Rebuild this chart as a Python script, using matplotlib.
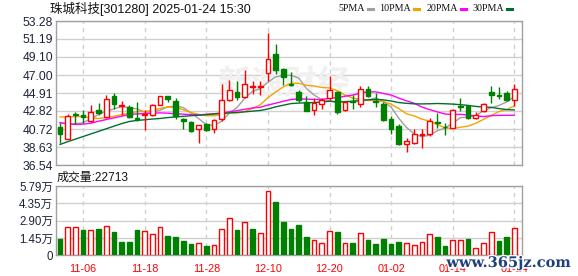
import matplotlib
matplotlib.use("Agg")
import matplotlib.pyplot as plt
import matplotlib.patheffects as pe

plt.rcParams['font.family'] = ['Liberation Sans', 'Noto Sans CJK SC', 'DejaVu Sans']

# trading days 2024-11-01 .. 2025-01-24
dates = ["11-01", "11-04", "11-05", "11-06", "11-07", "11-08", "11-11", "11-12", "11-13", "11-14",
         "11-15", "11-18", "11-19", "11-20", "11-21", "11-22", "11-25", "11-26", "11-27", "11-28",
         "11-29", "12-02", "12-03", "12-04", "12-05", "12-06", "12-09", "12-10", "12-11", "12-12",
         "12-13", "12-16", "12-17", "12-18", "12-19", "12-20", "12-23", "12-24", "12-25", "12-26",
         "12-27", "12-30", "12-31", "01-02", "01-03", "01-06", "01-07", "01-08", "01-09", "01-10",
         "01-13", "01-14", "01-15", "01-16", "01-17", "01-20", "01-21", "01-22", "01-23", "01-24"]

opens = [41.01, 39.59, 42.45, 42.40, 41.71, 42.94, 42.09, 44.60, 43.37, 43.25,
         42.00, 42.40, 42.40, 43.56, 44.52, 43.98, 41.94, 41.52, 40.75, 41.25,
         40.67, 41.90, 44.10, 45.03, 44.45, 45.62, 45.60, 47.22, 49.42, 47.65,
         46.00, 45.03, 43.87, 42.90, 43.60, 44.33, 45.03, 42.90, 43.95, 43.60,
         45.41, 44.00, 43.60, 41.83, 41.06, 38.93, 39.12, 40.00, 40.09, 41.55,
         41.00, 40.86, 43.40, 43.37, 42.02, 42.79, 45.03, 44.70, 44.87, 44.06]
highs = [41.44, 42.52, 42.67, 42.98, 43.56, 43.75, 44.72, 44.91, 43.94, 43.48,
         43.87, 42.98, 43.64, 44.60, 44.60, 44.29, 42.02, 41.63, 41.21, 41.44,
         41.94, 46.00, 46.38, 46.34, 47.61, 46.34, 46.34, 51.85, 50.58, 47.80,
         47.34, 45.30, 44.56, 44.33, 44.33, 46.84, 45.18, 43.94, 44.70, 45.76,
         45.76, 44.90, 43.87, 42.20, 41.33, 39.70, 40.67, 40.67, 42.02, 42.56,
         41.44, 43.02, 44.33, 43.48, 42.67, 43.75, 45.68, 45.60, 45.10, 45.95]
lows = [39.12, 39.59, 41.25, 41.44, 41.56, 42.40, 42.02, 43.06, 42.40, 42.02,
        41.63, 40.59, 42.21, 43.48, 43.90, 41.90, 40.67, 40.40, 39.09, 40.48,
        40.21, 41.70, 43.94, 44.14, 44.37, 44.83, 44.72, 46.26, 47.11, 45.80,
        45.75, 43.87, 42.79, 42.33, 43.10, 44.14, 42.52, 42.87, 43.00, 43.25,
        44.40, 43.30, 41.70, 40.10, 38.90, 38.08, 38.93, 38.55, 39.90, 40.86,
        40.00, 40.79, 42.79, 41.94, 41.83, 42.71, 43.75, 44.25, 43.94, 43.37]
closes = [40.17, 42.21, 42.40, 42.09, 42.71, 42.63, 44.21, 43.64, 43.48, 42.09,
          41.90, 42.45, 43.56, 44.52, 44.18, 42.21, 41.63, 40.48, 41.21, 40.56,
          41.79, 44.10, 45.22, 44.49, 45.95, 45.68, 45.78, 48.88, 47.61, 46.75,
          45.85, 44.14, 42.87, 43.75, 44.10, 45.30, 42.67, 43.90, 43.85, 45.41,
          44.60, 43.90, 41.75, 40.67, 38.93, 39.32, 40.09, 40.15, 41.63, 41.45,
          40.90, 42.90, 43.30, 42.02, 42.33, 43.64, 44.72, 44.60, 44.06, 45.41]

ma5 = [41.50, 41.30, 41.35, 41.45, 41.92, 42.41, 42.81, 43.06, 43.33, 43.21,
       43.06, 42.71, 42.70, 42.90, 43.32, 43.38, 43.22, 42.60, 41.94, 41.22,
       41.13, 41.63, 42.58, 43.23, 44.31, 45.10, 45.43, 46.16, 46.79, 46.95,
       46.97, 46.65, 45.44, 44.67, 44.14, 44.03, 43.74, 43.93, 43.96, 44.22,
       44.08, 44.33, 43.91, 43.27, 41.97, 40.91, 40.15, 39.82, 40.01, 40.52,
       40.83, 41.40, 42.04, 42.11, 42.29, 42.84, 43.20, 43.46, 43.87, 44.49]
ma10 = [42.13, 42.13, 42.17, 42.17, 42.00, 41.95, 42.05, 42.20, 42.40, 42.56,
        42.74, 42.76, 42.88, 43.12, 43.27, 43.22, 42.97, 42.65, 42.42, 42.27,
        42.26, 42.42, 42.59, 42.59, 42.76, 43.12, 43.53, 44.37, 45.01, 45.63,
        46.04, 46.04, 45.80, 45.73, 45.55, 45.50, 45.19, 44.69, 44.32, 44.18,
        44.06, 44.03, 43.92, 43.61, 43.10, 42.50, 42.24, 41.87, 41.64, 41.24,
        40.87, 40.77, 40.93, 41.06, 41.40, 41.84, 42.30, 42.75, 42.99, 43.39]
ma20 = [41.44, 41.32, 41.25, 41.29, 41.40, 41.63, 41.82, 42.02, 42.21, 42.40,
        42.48, 42.52, 42.56, 42.60, 42.56, 42.50, 42.45, 42.40, 42.38, 42.42,
        42.50, 42.59, 42.73, 42.85, 43.02, 43.17, 43.25, 43.51, 43.72, 43.95,
        44.15, 44.23, 44.20, 44.16, 44.15, 44.31, 44.36, 44.53, 44.66, 44.91,
        45.05, 45.04, 44.86, 44.67, 44.32, 44.00, 43.72, 43.28, 42.98, 42.71,
        42.47, 42.40, 42.43, 42.34, 42.25, 42.17, 42.27, 42.31, 42.32, 42.32]
ma30 = [38.93, 39.25, 39.55, 39.85, 40.15, 40.45, 40.75, 41.05, 41.35, 41.60,
        41.72, 41.80, 41.88, 41.95, 42.05, 42.12, 42.20, 42.27, 42.33, 42.40,
        42.47, 42.53, 42.60, 42.65, 42.72, 42.80, 42.88, 43.05, 43.30, 43.49,
        43.68, 43.74, 43.76, 43.81, 43.86, 43.95, 43.90, 43.90, 43.92, 44.03,
        44.12, 44.17, 44.11, 43.98, 43.80, 43.71, 43.65, 43.64, 43.66, 43.69,
        43.66, 43.62, 43.55, 43.47, 43.35, 43.28, 43.24, 43.10, 42.98, 42.94]

# volume in 万 shares
volume = [1.36, 2.34, 2.34, 2.12, 2.09, 2.20, 2.43, 1.95, 1.10, 1.10,
          2.12, 2.00, 1.75, 2.34, 1.61, 1.52, 1.19, 0.93, 0.99, 0.76,
          0.90, 2.17, 3.11, 2.12, 2.77, 2.20, 1.84, 5.39, 4.49, 2.80,
          2.20, 2.54, 1.52, 1.24, 0.99, 2.00, 1.95, 0.99, 1.02, 1.84,
          1.24, 0.93, 1.33, 0.93, 1.10, 0.99, 0.82, 1.07, 1.75, 1.50,
          0.76, 1.24, 1.24, 1.33, 0.65, 0.99, 1.92, 1.19, 1.50, 2.2713]

price_ticks = [36.54, 38.63, 40.72, 42.82, 44.91, 47.00, 49.10, 51.19, 53.28]
vol_ticks = [0, 1.45, 2.90, 4.35, 5.79]
vol_labels = ["0", "1.45万", "2.90万", "4.35万", "5.79万"]
label_days = ["11-06", "11-18", "11-28", "12-10", "12-20", "01-02", "01-14", "01-24"]

RED = "#ff0000"
GREEN = "#008000"
GRID = "#d0d0d0"
FRAME = "#a0a0a0"
TXT = "#1c2438"

fig = plt.figure(figsize=(5.78, 2.76), dpi=100)
ax = fig.add_axes([56 / 578, 1 - 165 / 276, 466 / 578, 144 / 276])
axv = fig.add_axes([56 / 578, 1 - 255.3 / 276, 466 / 578, 69.3 / 276])

n = len(dates)
xs = list(range(n))
tick_pos = [dates.index(d) for d in label_days]

for a in (ax, axv):
    a.set_xlim(-0.52, n)
    for s in a.spines.values():
        s.set_color(FRAME)
        s.set_linewidth(1)
    for p in tick_pos:
        a.axvline(p, color=GRID, lw=1, ls=(0, (3, 3)), zorder=0)
    a.tick_params(axis='both', length=0)

# price panel
ax.set_ylim(price_ticks[0], price_ticks[-1])
ax.set_yticks(price_ticks)
ax.set_yticklabels(["%.2f" % v for v in price_ticks], fontsize=8.7, color=TXT)
ax.tick_params(axis='y', pad=2)
ax.set_xticks([])
for v in price_ticks:
    ax.axhline(v, color=GRID, lw=1, zorder=0)

# faint site watermark behind the candles
ax.text(0.49, 0.55, "新浪财经", transform=ax.transAxes, ha='center', va='center',
        fontsize=24, color='#f0f0f0', zorder=0.5, fontweight='bold')

ax.plot(xs, ma5, color="#a0a0a0", lw=1, zorder=4)
ax.plot(xs, ma10, color="#f5a300", lw=1, zorder=4)
ax.plot(xs, ma20, color="#ff00ff", lw=1, zorder=4)
ax.plot(xs, ma30, color="#006f2e", lw=1, zorder=4)

for i in xs:
    o, h, l, c = opens[i], highs[i], lows[i], closes[i]
    up = c >= o
    col = RED if up else GREEN
    ax.vlines(i, l, h, color=col, lw=1, zorder=5)
    bottom = min(o, c)
    height = max(abs(c - o), 0.04)
    ax.bar(i, height, bottom=bottom, width=0.6, facecolor='white' if up else GREEN,
           edgecolor=col, linewidth=1, zorder=6)

# volume panel
axv.set_ylim(0, vol_ticks[-1])
axv.set_yticks(vol_ticks)
axv.set_yticklabels(vol_labels, fontsize=8.3, color=TXT)
axv.tick_params(axis='y', pad=2)
for v in vol_ticks:
    axv.axhline(v, color=GRID, lw=1, zorder=0)
for i in xs:
    prev = closes[i - 1] if i > 0 else opens[i]
    up = closes[i] >= prev
    axv.bar(i, volume[i], width=0.6, facecolor='white' if up else GREEN,
            edgecolor=RED if up else GREEN, linewidth=1, zorder=3)
axv.set_xticks(tick_pos)
axv.set_xticklabels(label_days, fontsize=7.8, color=RED)
axv.tick_params(axis='x', pad=6)

# texts
fig.text(50 / 578, 1 - 8.5 / 276, "珠城科技[301280] 2025-01-24 15:30", fontsize=9,
         color="#111111", ha='left', va='center')
fig.text(57 / 578, 1 - 178 / 276, "成交量:%d" % round(volume[-1] * 10000),
         fontsize=8.6, color="#111111", ha='left', va='center')

legend = [("5PMA", "#a0a0a0"), ("10PMA", "#f5a300"), ("20PMA", "#ff00ff"), ("30PMA", "#006f2e")]
lx = 338
for name, col in legend:
    t = fig.text(lx / 578, 1 - 8.5 / 276, name, fontsize=7.2, family='Liberation Serif',
                 color="#111111", ha='left', va='center')
    fig.canvas.draw()
    bb = t.get_window_extent()
    x1 = bb.x1 + 3
    fig.add_artist(plt.Line2D([x1 / 578, (x1 + 5) / 578], [1 - 8.5 / 276] * 2,
                              color=col, lw=2.2, transform=fig.transFigure))
    lx = x1 + 12

fig.text(571 / 578, 1 - 263 / 276, "www.365jz.com", fontsize=10.5, family='DejaVu Serif',
         fontweight='bold', color="#1f3f7d", ha='right', va='center',
         path_effects=[pe.withStroke(linewidth=2, foreground='white')])

fig.savefig("out.png", dpi=100)
